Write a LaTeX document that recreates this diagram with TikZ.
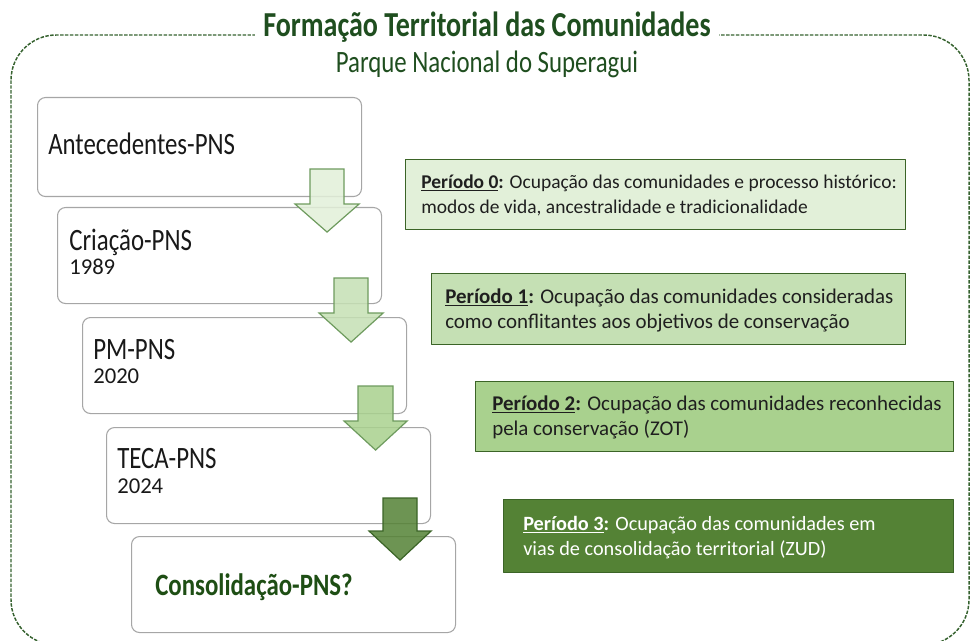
\documentclass[tikz,border=0pt]{standalone}
\usepackage{fontspec}
\setmainfont{Carlito}[FakeStretch=0.8]
\newfontfamily\plainfont{Carlito}
\usetikzlibrary{calc}
\definecolor{titlegreen}{HTML}{1F4E1F}
\definecolor{consgreen}{HTML}{1E4E14}
\definecolor{framegreen}{HTML}{36622F}
\definecolor{boxgray}{HTML}{A6A6A6}
\definecolor{perborder}{HTML}{3B6427}
\definecolor{pzero}{HTML}{E2F0D9}
\definecolor{pone}{HTML}{C5E0B4}
\definecolor{ptwo}{HTML}{A9D18E}
\definecolor{pthree}{HTML}{548235}
\definecolor{arrline}{HTML}{6E9B5E}
\definecolor{arrdark}{HTML}{3B6427}

\begin{document}
\begin{tikzpicture}[x=0.75pt,y=-0.75pt,line join=round,
	frame/.style={draw=framegreen,line width=1.1pt,dash pattern=on 2.6pt off 1.1pt,rounded corners=34pt},
	titletext/.style={anchor=base,fill=white,inner xsep=6pt,inner ysep=3pt,text=titlegreen,font=\bfseries\fontsize{26.3}{30}\selectfont},
	subtext/.style={anchor=base,inner sep=0pt,text=titlegreen,font=\fontsize{23.3}{26}\selectfont},
	box/.style={draw=boxgray,line width=0.8pt,rounded corners=6pt,fill=white,minimum width=243pt,minimum height=72pt,inner sep=0pt,anchor=north west},
	steptext/.style={anchor=base west,inner sep=0pt,text=black!90,font=\fontsize{23.3}{26}\selectfont},
	yeartext/.style={anchor=base west,inner sep=0pt,text=black!90,font=\plainfont\fontsize{17}{20}\selectfont},
	per/.style={draw=perborder,line width=0.9pt,inner sep=0pt,anchor=north west},
	pertext/.style={anchor=west,align=left,inner sep=0pt,text=black!88,font=\plainfont\fontsize{15.7}{18.75}\selectfont},
	arr/.style={line width=0.9pt,fill opacity=0.85,line join=miter}]
	\useasboundingbox (0,0) rectangle (973,641);
	\clip (0,0) rectangle (973,641);
	% outer frame and titles
	\draw[frame] (11,35) rectangle (969,645);
	\node[titletext] (title) at (487,37) {Formação Territorial das Comunidades};
	\node[subtext] (sub) at (487,73) {Parque Nacional do Superagui};
	% steps
	\node[box,minimum height=74.25pt] (b0) at (37,97) {};
	\node[box] (b1) at (57,207) {};
	\node[box] (b2) at (82,317) {};
	\node[box] (b3) at (106,427) {};
	\node[box] (b4) at (131,536) {};
	\node[steptext] (t0) at ($(b0.north west)+(11,58)$) {Antecedentes-PNS};
	\node[steptext] (t1) at ($(b1.north west)+(12,44)$) {Criação-PNS};
	\node[yeartext] (y1) at ($(t1.base west)+(0,24)$) {1989};
	\node[steptext] (t2) at ($(b2.north west)+(11,42)$) {PM-PNS};
	\node[yeartext] (y2) at ($(t2.base west)+(0,24)$) {2020};
	\node[steptext] (t3) at ($(b3.north west)+(11,41)$) {TECA-PNS};
	\node[yeartext] (y3) at ($(t3.base west)+(0,25)$) {2024};
	\node[steptext,text=consgreen,font=\bfseries\fontsize{23.3}{26}\selectfont] (t4) at ($(b4.north west)+(24,59)$) {Consolidação-PNS?};
	% arrows between steps
	\draw[arr,fill=pzero,draw=arrline] ($(b0.south east)+(-52,-28)$) -- ++(34,0) -- ++(0,35) -- ++(15,0) -- ++(-32,28) -- ++(-32,-28) -- ++(15,0) -- cycle;
	\draw[arr,fill=pone,draw=arrline] ($(b1.south east)+(-48,-26)$) -- ++(34,0) -- ++(0,35) -- ++(15,0) -- ++(-32,29) -- ++(-32,-29) -- ++(15,0) -- cycle;
	\draw[arr,fill=ptwo,draw=arrline] ($(b2.south east)+(-49,-28)$) -- ++(35,0) -- ++(0,35) -- ++(14,0) -- ++(-31.5,29) -- ++(-31.5,-29) -- ++(14,0) -- cycle;
	\draw[arr,fill=pthree,draw=arrdark] ($(b3.south east)+(-48,-26)$) -- ++(34,0) -- ++(0,33) -- ++(14,0) -- ++(-31,29) -- ++(-31,-29) -- ++(14,0) -- cycle;
	% periods
	\node[per,fill=pzero,minimum width=375pt,minimum height=52.5pt] (p0) at (405,159) {};
	\node[per,fill=pone,minimum width=355.5pt,minimum height=53.25pt] (p1) at (431,273) {};
	\node[per,fill=ptwo,minimum width=358.5pt,minimum height=52.5pt] (p2) at (475,381) {};
	\node[per,fill=pthree,minimum width=337.5pt,minimum height=54.75pt] (p3) at (503,499) {};
	\node[pertext,font=\plainfont\fontsize{14.6}{18.75}\selectfont] (q0) at ($(p0.west)+(16,1)$) {\underline{\textbf{Período 0}}\textbf{:} Ocupação das comunidades e processo histórico:\\modos de vida, ancestralidade e tradicionalidade};
	\node[pertext] (q1) at ($(p1.west)+(14,1)$) {\underline{\textbf{Período 1}}\textbf{:} Ocupação das comunidades consideradas\\como conflitantes aos objetivos de conservação};
	\node[pertext] (q2) at ($(p2.west)+(17,1)$) {\underline{\textbf{Período 2}}\textbf{:} Ocupação das comunidades reconhecidas\\pela conservação (ZOT)};
	\node[pertext,text=white,font=\plainfont\fontsize{15.2}{18.75}\selectfont] (q3) at ($(p3.west)+(20,1)$) {\underline{\textbf{Período 3}}\textbf{:} Ocupação das comunidades em\\vias de consolidação territorial (ZUD)};
\end{tikzpicture}
\end{document}
